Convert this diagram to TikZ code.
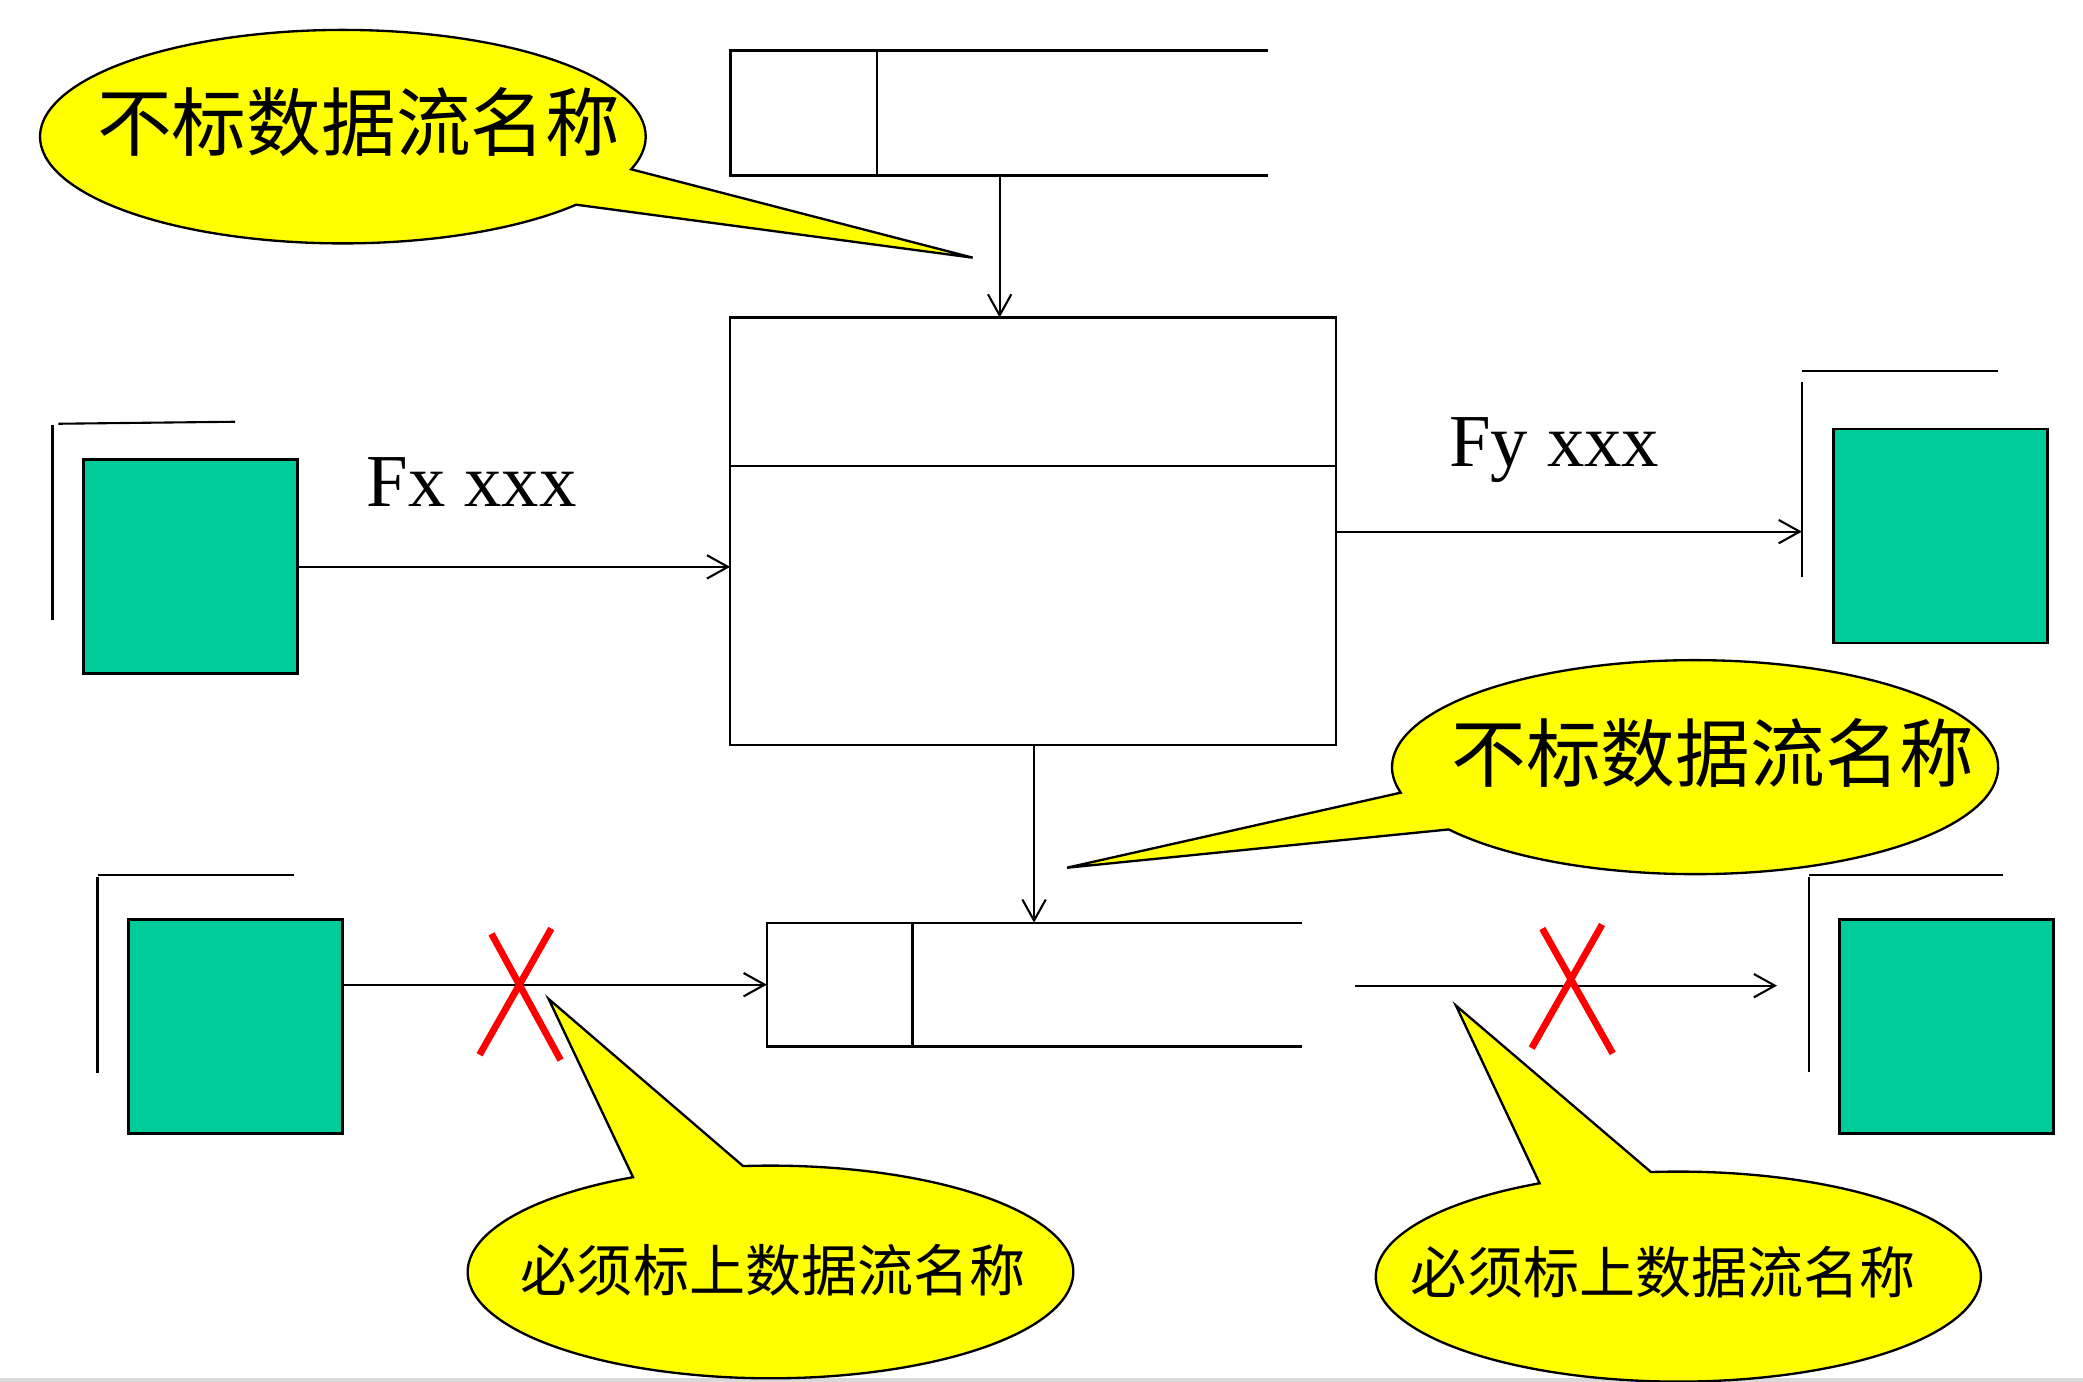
\documentclass[tikz,border=0pt]{standalone}
\usepackage{fontspec}
\setmainfont{Liberation Serif}
\newfontfamily\cjk{Noto Sans CJK SC}
\usetikzlibrary{arrows.meta,calc}
\definecolor{entgreen}{RGB}{0,204,153}
\definecolor{callyellow}{RGB}{255,255,0}
\begin{document}
\begin{tikzpicture}[x=0.01cm,y=0.01cm,
  entity/.style={draw=black,line width=0.6pt,fill=entgreen,minimum width=1.61cm,minimum height=1.61cm,inner sep=0pt,outer sep=0pt},
  proc/.style={draw=black,line width=0.45pt,minimum width=4.557cm,minimum height=3.215cm,inner sep=0pt,outer sep=0pt},
  flow/.style={line width=0.45pt,-{Straight Barb[length=4.5pt,width=5pt]}},
  shadowline/.style={line width=0.45pt},
  storeline/.style={line width=0.5pt},
  callout/.style={draw=black,line width=0.5pt,fill=callyellow},
  cross/.style={draw=red,line width=1.45pt},
  bigcjk/.style={font=\cjk\fontsize{16pt}{16pt}\selectfont,inner sep=0pt},
  smallcjk/.style={font=\cjk\fontsize{12pt}{12pt}\selectfont,inner sep=0pt},
  lbl/.style={font=\fontsize{16pt}{16pt}\selectfont,inner sep=0pt}
]
\useasboundingbox (0,0) rectangle (1568,1040);
\fill[black!15] (0,0) rectangle (1568,2.5);

% callouts
\draw[callout] ($(258.1,937.1)+(-17.8:2.278cm and 0.803cm)$) arc[start angle=-17.8,end angle=320.4,x radius=2.278cm,y radius=0.803cm] -- (732.2,846) -- cycle;
\draw[callout] ($(1276,462.5)+(215.6:2.28cm and 0.805cm)$) arc[start angle=215.6,end angle=553.8,x radius=2.28cm,y radius=0.805cm] -- (803.2,386.8) -- cycle;
\draw[callout] ($(580,82.5)+(117.0:2.278cm and 0.80cm)$) arc[start angle=117.0,end angle=455.2,x radius=2.278cm,y radius=0.80cm] -- (413,288) -- cycle;
\draw[callout] ($(1263.4,79)+(117.3:2.276cm and 0.79cm)$) arc[start angle=117.3,end angle=455.2,x radius=2.276cm,y radius=0.79cm] -- (1096,283) -- cycle;

\node[bigcjk] (t1) at (270,948.4) {不标数据流名称};
\node[bigcjk] (t2) at (1289.5,473) {不标数据流名称};
\node[smallcjk] (t3) at (582,83.6) {必须标上数据流名称};
\node[smallcjk] (t4) at (1252,82) {必须标上数据流名称};

% process
\node[proc] (P) at (777.6,640.15) {};
\draw[line width=0.45pt] ($(P.north west)!0.3474!(P.south west)$) -- ($(P.north east)!0.3474!(P.south east)$);

% entities
\node[entity] (e1) at (143.45,613.25) {};
\node[entity] (e2) at (1461,636.5) {};
\node[entity] (e3) at (177.35,267.2) {};
\node[entity] (e4) at (1465.5,267.2) {};

% entity side lines
\draw[shadowline] (39.5,720) -- (39.5,573);
\draw[shadowline] (44,721) -- (177,722.5);
\draw[shadowline] (1356.4,752.5) -- (1356.4,606);
\draw[shadowline] (1356.5,761) -- (1504,761);
\draw[shadowline] (73.4,380) -- (73.4,232);
\draw[shadowline] (74,381.3) -- (221,381.3);
\draw[shadowline] (1362,380) -- (1362,233);
\draw[shadowline] (1362,381.3) -- (1508,381.3);

% stores
\draw[storeline] (954.4,1001.9) -- (549.8,1001.9) -- (549.8,907.8) -- (954.4,907.8);
\draw[storeline] (660,1001.9) -- (660,907.8);
\coordinate (s1b) at (752.5,907.8);
\draw[storeline] (980,345.4) -- (577.2,345.4) -- (577.2,252.1) -- (980,252.1);
\draw[storeline] (687,345.4) -- (687,252.1);
\coordinate (s2t) at (778.4,345.4);
\coordinate (s2w) at (577.2,298.75);

% flows
\draw[flow] (s1b) -- (s1b |- P.north);
\draw[flow] (s2t |- P.south) -- (s2t);
\draw[flow] (e1.east) -- (e1.east -| P.west);
\coordinate (e2L) at (1356.4,639.8);
\draw[flow] (P.east |- e2L) -- (e2L);
\draw[flow] (e3.east |- s2w) -- (s2w);
\coordinate (r0) at (1020,298);
\coordinate (r1) at (1337.7,298);
\draw[flow] (r0) -- (r1);

% labels
\node[lbl,anchor=base] (fx) at (355,658.6) {Fx xxx};
\node[lbl,anchor=base] (fy) at (1170,688.7) {Fy xxx};

% red crosses
\draw[cross] (370,337) -- (422,242);
\draw[cross] (415,341) -- (361,246);
\draw[cross] (1161,341) -- (1214,247);
\draw[cross] (1206,344) -- (1153,251);
\end{tikzpicture}
\end{document}
